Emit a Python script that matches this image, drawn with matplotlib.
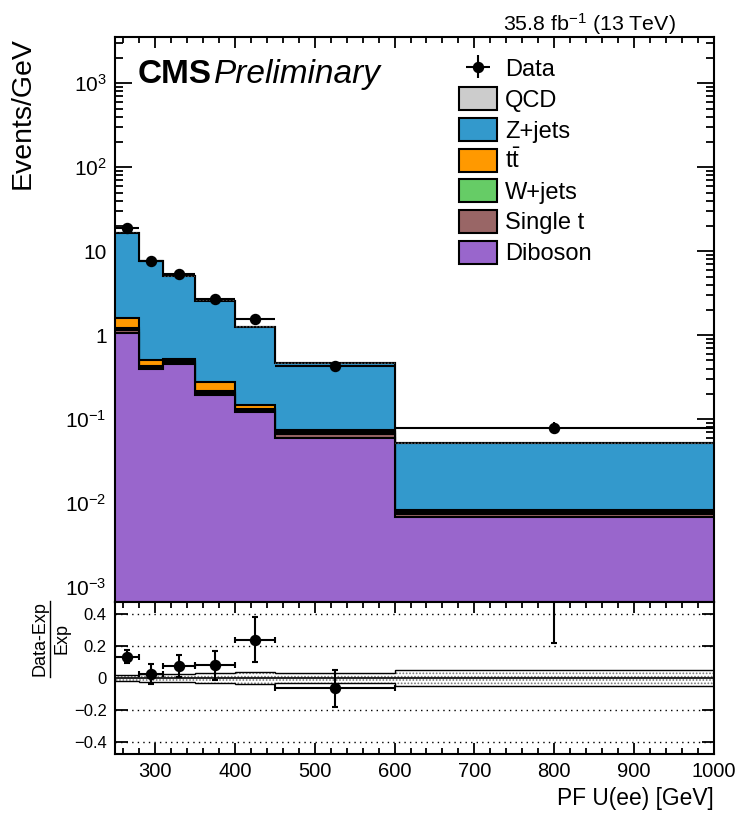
import matplotlib
matplotlib.use("Agg")
import matplotlib.pyplot as plt
import numpy as np
from matplotlib.lines import Line2D
from matplotlib.patches import Patch
from matplotlib.ticker import MultipleLocator, LogLocator, FuncFormatter, NullFormatter, NullLocator

# binning and stacked backgrounds (events / GeV)
edges = [250, 280, 310, 350, 400, 450, 600, 1000]
diboson = [1.07, 0.40, 0.46, 0.195, 0.121, 0.059, 0.0068]
single_t = [0.095, 0.019, 0.019, 0.011, 0.0076, 0.0076, 0.0006]
wjets = [0.048, 0.0095, 0.0095, 0.011, 0.0048, 0.0038, 0.0005]
ttbar = [0.38, 0.076, 0.038, 0.061, 0.014, 0.003, 0.0003]
zjets = [15.0, 7.13, 4.5, 2.26, 1.10, 0.39, 0.044]
qcd = [0, 0, 0, 0, 0, 0, 0]

data = [18.8, 7.73, 5.34, 2.68, 1.55, 0.434, 0.079]
data_err = [0.75, 0.5, 0.36, 0.24, 0.17, 0.05, 0.013]

# ratio panel
ratio = [0.134, 0.025, 0.077, 0.08, 0.24, -0.065, 0.6]
ratio_err = [0.04, 0.065, 0.07, 0.09, 0.14, 0.115, 0.38]
band = [0.016, 0.028, 0.025, 0.03, 0.038, 0.03, 0.048]

names = ["QCD", "Z+jets", r"$\mathrm{t\bar{t}}$", "W+jets", "Single t", "Diboson"]
colors = ["#cccccc", "#3399cc", "#ff9900", "#66cc66", "#996666", "#9966cc"]


def main():
    plt.rcParams['font.family'] = ['Liberation Sans', 'DejaVu Sans']
    plt.rcParams['mathtext.fontset'] = 'custom'
    plt.rcParams['mathtext.rm'] = 'Liberation Sans'
    plt.rcParams['mathtext.it'] = 'Liberation Sans:italic'
    plt.rcParams['mathtext.bf'] = 'Liberation Sans:bold'
    plt.rcParams['axes.linewidth'] = 1.5
    plt.rcParams['hatch.color'] = '#777777'
    plt.rcParams['hatch.linewidth'] = 0.8

    e = np.array(edges, dtype=float)
    centers = 0.5 * (e[1:] + e[:-1])
    half = 0.5 * (e[1:] - e[:-1])

    W, H = 744, 816
    fig = plt.figure(figsize=(W / 100, H / 100), dpi=100)
    ax = fig.add_axes([0.1546, 0.2619, 0.8051, 0.6928])
    ax2 = fig.add_axes([0.1546, 0.076, 0.8051, 0.1859], sharex=ax)

    ymin, ymax = 6.6e-4, 3560

    # stack, bottom to top
    comps = [diboson, single_t, wjets, ttbar, zjets, qcd]
    cum = np.cumsum(np.array(comps, dtype=float), axis=0)
    comp_colors = colors[::-1]
    # draw from the top of the stack down so lower ones overlay
    for i in range(len(comps) - 1, -1, -1):
        ax.stairs(cum[i], e, baseline=ymin, fill=True, color=comp_colors[i],
                  zorder=2 + (len(comps) - i))
        ax.stairs(cum[i], e, baseline=None, color='k', lw=1.5,
                  zorder=2 + (len(comps) - i))
    total = cum[-1]
    b = np.array(band)
    ax.stairs(total * (1 + b), e, baseline=total * (1 - b), fill=True,
              facecolor='none', edgecolor='#555555', hatch='.....', lw=0, zorder=10)

    dat = ax.errorbar(centers, data, xerr=half, yerr=data_err, fmt='o', color='k',
                      ms=7.2, lw=1.5, capsize=0, zorder=12)

    ax.set_yscale('log')
    ax.set_ylim(ymin, ymax)
    ax.set_xlim(250, 1000)

    def logfmt(v, pos):
        n = int(round(np.log10(v)))
        if n == 0:
            return "1"
        if n == 1:
            return "10"
        return r"$10^{%d}$" % n

    ax.yaxis.set_major_locator(LogLocator(base=10, numticks=20))
    ax.yaxis.set_minor_locator(LogLocator(base=10, subs=np.arange(2, 10), numticks=20))
    ax.yaxis.set_major_formatter(FuncFormatter(logfmt))
    ax.yaxis.set_minor_formatter(NullFormatter())
    ax.xaxis.set_major_locator(MultipleLocator(100))
    ax.xaxis.set_minor_locator(MultipleLocator(20))
    ax.tick_params(axis='x', which='both', direction='in', top=True, bottom=True,
                   labelbottom=False, width=1.3)
    ax.tick_params(axis='x', which='major', length=8)
    ax.tick_params(axis='x', which='minor', length=4)
    ax.tick_params(axis='y', which='both', direction='in', left=True, right=True, width=1.3)
    ax.tick_params(axis='y', which='major', length=12, labelsize=15, pad=6)
    ax.tick_params(axis='y', which='minor', length=6)
    for sp in ax.spines.values():
        sp.set_zorder(20)

    # legend
    handles = [dat] + [Patch(facecolor=c, edgecolor='k', lw=1.5) for c in colors]
    labels = ["Data"] + names
    ax.legend(handles, labels, loc='upper left', bbox_to_anchor=(0.574, 0.965),
              frameon=False, fontsize=17, handlelength=1.61, handleheight=1.12,
              labelspacing=0.26, handletextpad=0.35, borderpad=0, borderaxespad=0)

    cms = fig.text(138 / W, 1 - 83 / H, "CMS", fontsize=24, fontweight='bold',
                   va='baseline', ha='left')
    fig.canvas.draw()
    bb = cms.get_window_extent()
    fig.text(bb.x1 / fig.bbox.width + 0.002, 1 - 83 / H, "Preliminary", fontsize=24,
             fontstyle='italic', va='baseline', ha='left')
    fig.text(676 / W, 1 - 31 / H, r"35.8 fb$^{-1}$ (13 TeV)", fontsize=15.4,
             ha='right', va='baseline')
    ax.set_ylabel("Events/GeV", fontsize=20.5, loc='top')
    ax.yaxis.set_label_coords(-0.133, 1.0)

    # ratio panel
    ax2.stairs(b, e, baseline=-b, fill=True, facecolor='white',
               edgecolor='#777777', hatch='.....', lw=0, zorder=2)
    ax2.stairs(b, e, baseline=None, color='k', lw=1, zorder=3)
    ax2.stairs(-b, e, baseline=None, color='k', lw=1, zorder=3)
    ax2.axhline(0, color='k', lw=1.2, zorder=4)
    for yv in [-0.4, -0.2, 0.2, 0.4]:
        ax2.axhline(yv, color='k', lw=1, ls=(0, (1, 3)), zorder=1)
    ax2.errorbar(centers, ratio, xerr=half, yerr=ratio_err, fmt='o', color='k',
                 ms=7.2, lw=1.5, capsize=2.5, capthick=1.5, zorder=6)
    ax2.set_ylim(-0.477, 0.475)
    ax2.yaxis.set_major_locator(MultipleLocator(0.2))
    ax2.yaxis.set_minor_locator(NullLocator())
    ax2.yaxis.set_major_formatter(FuncFormatter(
        lambda v, p: "0" if abs(v) < 1e-9 else ("%.1f" % v).replace("-", "\u2212")))
    ax2.tick_params(axis='x', which='both', direction='in', top=True, bottom=True, width=1.3)
    ax2.tick_params(axis='x', which='major', length=8, labelsize=14.5, pad=6)
    ax2.tick_params(axis='x', which='minor', length=4)
    ax2.tick_params(axis='y', which='both', direction='in', left=True, right=True, width=1.3)
    ax2.tick_params(axis='y', which='major', length=9, labelsize=12, pad=6)
    for sp in ax2.spines.values():
        sp.set_zorder(20)
    ax2.set_xlabel("PF U(ee) [GeV]", loc='right', fontsize=16.4, labelpad=4)

    # ratio title drawn as a fraction: numerator, bar, denominator
    fig.text(40 / W, 1 - 639 / H, "Data-Exp", fontsize=13, rotation=90,
             ha='center', va='center')
    fig.text(62 / W, 1 - 639 / H, "Exp", fontsize=13, rotation=90,
             ha='center', va='center')
    fig.add_artist(Line2D([50 / W, 50 / W], [1 - 601 / H, 1 - 677 / H],
                          transform=fig.transFigure, color='k', lw=1))

    plt.savefig("out.png", dpi=100)


if __name__ == '__main__':
    main()
